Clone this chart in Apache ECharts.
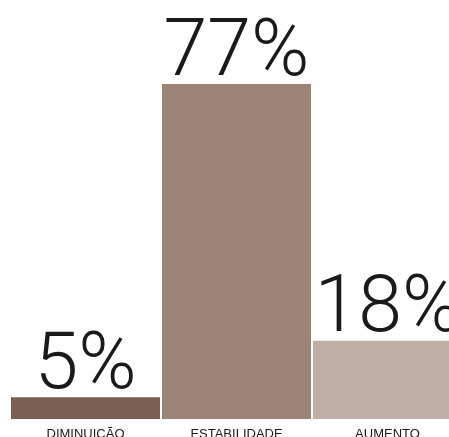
<!DOCTYPE html>
<html>
<head>
<meta charset="utf-8">
<script src="https://cdn.jsdelivr.net/npm/echarts@6/dist/echarts.min.js"></script>
<style>html,body{margin:0;padding:0;background:#fff;}#c{width:449px;height:437px;}</style>
</head>
<body>
<div id="c"></div>
<script>
const categories = ['DIMINUIÇÃO', 'ESTABILIDADE', 'AUMENTO'];
const values = [5, 77, 18];
const colors = ['#7b5f51', '#9d8376', '#bfaea5'];

const chart = echarts.init(document.getElementById('c'), null, {renderer: 'canvas'});
chart.setOption({
  animation: false,
  backgroundColor: '#ffffff',
  grid: {left: 10, width: 453, top: 84, bottom: 18, containLabel: false, outerBoundsMode: 'none'},
  xAxis: {
    type: 'category',
    data: categories,
    axisLine: {show: false},
    axisTick: {show: false},
    axisLabel: {
      interval: 0,
      margin: 9,
      color: '#1a1a1a',
      fontFamily: 'Liberation Sans',
      fontSize: 13
    }
  },
  yAxis: {type: 'value', min: 0, max: 77, show: false, splitLine: {show: false}},
  series: [{
    type: 'bar',
    barWidth: 149,
    data: values.map((v, i) => ({value: v, itemStyle: {color: colors[i]}})),
    label: {
      show: true,
      position: 'top',
      distance: 0,
      offset: [0, 7],
      formatter: p => p.value + '%',
      color: '#1a1a1a',
      fontFamily: '"Roboto Light", Roboto',
      fontWeight: 300,
      fontSize: 79
    }
  }]
});
</script>
</body>
</html>
